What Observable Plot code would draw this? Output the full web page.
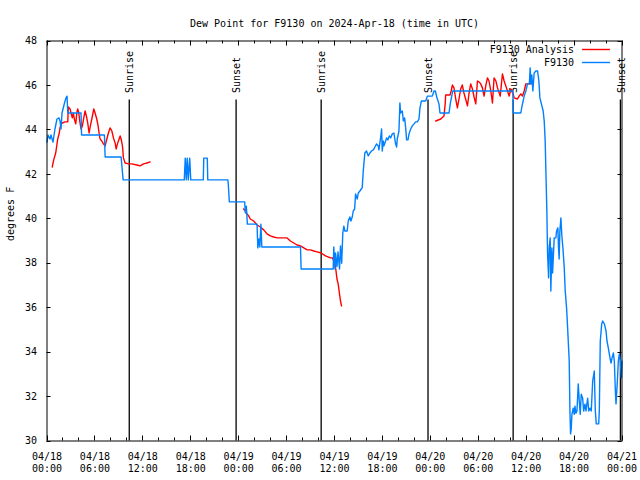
<!DOCTYPE html>
<html><head><meta charset="utf-8">
<script src="https://cdn.jsdelivr.net/npm/d3@7"></script>
<script src="https://cdn.jsdelivr.net/npm/@observablehq/plot@0.6"></script>
<style>body{margin:0;background:#fff} svg{display:block}</style>
</head><body><div id="chart"></div>
<script>
const chartTitle = "Dew Point for F9130 on 2024-Apr-18 (time in UTC)";
const yLabel = "degrees F";
const startUTC = Date.UTC(2024, 3, 18);
const xTickHours = [0, 6, 12, 18, 24, 30, 36, 42, 48, 54, 60, 66, 72];
const yTicks = [30, 32, 34, 36, 38, 40, 42, 44, 46, 48];

// F9130 observations: [hours since 2024-04-18 00:00 UTC, dew point F]
const blueSeries = [[0,43.45],[0.13,43.77],[0.38,43.59],[0.5,43.77],[0.75,43.45],[1.0,44.04],[1.25,44.49],[1.5,44.54],[1.63,44.4],[1.76,44.04],[1.88,44.76],[2.13,45.12],[2.26,45.3],[2.38,45.44],[2.51,45.52],[2.6,44.76],[4.26,44.76],[4.33,43.77],[7.19,43.77],[7.28,42.78],[9.28,42.78],[9.53,41.75],[17.19,41.75],[17.31,42.73],[17.44,41.75],[17.56,42.73],[17.69,41.75],[17.87,42.73],[18.0,41.75],[19.57,41.75],[19.63,42.73],[20.07,42.73],[20.13,41.75],[22.64,41.75],[22.7,41.57],[22.83,40.76],[24.75,40.76],[24.84,40.26],[24.96,40.57],[25.09,39.76],[26.3,39.76],[26.4,38.69],[26.53,39.09],[26.65,38.73],[26.78,39.76],[26.9,38.73],[31.74,38.73],[31.82,37.74],[35.84,37.74],[35.91,38.73],[36.06,37.74],[36.13,38.46],[36.31,37.85],[36.44,38.51],[36.63,37.74],[36.75,38.78],[36.9,38.0],[37.04,39.36],[37.17,39.67],[37.3,39.45],[37.59,39.45],[37.72,39.9],[37.92,40.08],[38.05,39.9],[38.22,40.08],[38.35,40.35],[38.52,40.44],[38.64,41.12],[38.85,40.89],[38.98,41.16],[39.18,41.25],[39.35,41.34],[39.47,41.39],[39.6,42.15],[39.8,42.96],[40.01,43.05],[40.23,42.83],[40.43,42.96],[40.64,43.05],[40.86,43.1],[41.06,43.23],[41.27,43.37],[41.48,43.28],[41.56,43.1],[41.68,43.41],[41.77,43.64],[41.9,44.04],[41.98,43.05],[42.11,43.5],[42.18,43.28],[42.4,43.5],[42.52,43.64],[42.69,43.55],[42.86,43.73],[43.03,43.64],[43.24,43.82],[43.44,43.86],[43.65,43.37],[43.78,43.23],[43.86,43.59],[44.07,43.95],[44.19,45.21],[44.28,44.76],[44.49,44.85],[44.62,44.4],[44.78,44.54],[44.91,44.09],[45.03,43.55],[45.2,43.55],[45.33,43.82],[45.54,44.04],[45.75,44.18],[45.96,44.27],[46.16,44.36],[46.37,44.36],[46.58,44.49],[46.71,45.0],[46.88,45.3],[47.42,45.3],[47.63,45.52],[48.25,45.52],[48.46,45.75],[48.63,45.75],[48.8,45.48],[49.08,45.17],[49.21,44.76],[50.34,44.76],[50.49,45.17],[50.68,45.52],[50.8,45.75],[58.33,45.75],[58.37,44.76],[59.33,44.76],[59.46,45.03],[59.75,45.52],[59.96,45.75],[60.17,46.07],[60.4,46.07],[60.5,46.79],[60.59,46.07],[60.71,46.47],[60.84,45.75],[61.0,46.56],[61.21,46.65],[61.43,46.65],[61.59,46.2],[61.72,45.44],[61.97,45.08],[62.13,44.85],[62.26,44.4],[62.38,43.5],[62.47,42.15],[62.59,40.35],[62.68,38.42],[62.81,37.34],[62.88,38.69],[63.01,39.14],[63.09,36.75],[63.22,38.69],[63.31,37.56],[63.51,39.14],[63.72,39.14],[63.81,39.45],[63.97,39.59],[64.05,38.69],[64.13,38.19],[64.22,39.45],[64.35,40.04],[64.47,39.23],[64.6,38.69],[64.77,37.79],[64.89,36.75],[65.06,35.99],[65.19,35.09],[65.39,33.6],[65.48,31.35],[65.56,30.32],[65.64,30.54],[65.73,31.2],[65.89,31.48],[66.02,31.2],[66.11,31.57],[66.23,31.25],[66.36,31.35],[66.52,32.57],[66.65,31.8],[66.77,31.2],[66.9,32.11],[67.07,31.93],[67.2,31.35],[67.36,31.66],[67.49,31.35],[67.7,31.93],[67.83,31.35],[67.99,31.48],[68.15,31.35],[68.33,32.7],[68.53,33.15],[68.66,31.35],[68.78,30.77],[69.08,30.77],[69.16,31.35],[69.28,34.5],[69.46,35.27],[69.58,35.4],[69.79,35.27],[70.0,34.95],[70.12,34.5],[70.29,34.18],[70.5,33.73],[70.63,33.51],[70.75,33.73],[70.92,33.96],[71.04,33.6],[71.17,32.25],[71.25,31.67],[71.42,32.7],[71.54,33.6],[71.67,33.92],[71.79,33.6],[71.92,32.84],[72.0,33.6]];

// F9130 Analysis, three separate runs
const redRun1 = [[0.66,42.33],[0.84,42.65],[1.09,42.96],[1.22,43.28],[1.34,43.59],[1.54,43.86],[1.63,44.09],[1.76,44.27],[1.92,44.31],[2.26,44.36],[2.6,44.36],[2.67,45.03],[2.89,44.94],[3.01,44.76],[3.17,44.54],[3.3,44.76],[3.42,44.49],[3.6,44.27],[3.73,44.76],[3.85,44.94],[3.98,44.76],[4.1,44.4],[4.26,44.04],[4.43,44.18],[4.6,44.54],[4.77,44.85],[4.93,44.63],[5.1,44.31],[5.27,43.86],[5.43,44.18],[5.61,44.49],[5.86,44.94],[6.02,44.76],[6.23,44.49],[6.4,44.18],[6.52,43.86],[6.65,43.59],[6.86,43.5],[7.06,43.37],[7.28,43.28],[7.49,43.59],[7.69,43.86],[7.9,44.09],[8.12,43.95],[8.32,43.64],[8.53,43.41],[8.66,43.14],[8.82,43.37],[9.03,43.59],[9.16,43.73],[9.28,43.59],[9.45,43.28],[9.57,42.74],[9.78,42.51],[10.2,42.47],[10.62,42.47],[11.25,42.42],[11.67,42.38],[12.08,42.47],[12.51,42.51],[12.92,42.56]];
const redRun2 = [[24.62,40.44],[24.84,40.35],[25.05,40.22],[25.25,40.13],[25.46,39.99],[25.88,39.9],[26.3,39.72],[26.72,39.63],[27.13,39.5],[27.56,39.32],[27.97,39.23],[28.39,39.18],[28.81,39.14],[29.23,39.14],[30.07,39.14],[30.48,39.0],[30.9,38.91],[31.32,38.82],[31.74,38.78],[32.15,38.69],[32.58,38.6],[32.99,38.6],[33.41,38.55],[33.83,38.51],[34.33,38.46],[34.87,38.33],[35.5,38.24],[35.75,38.24],[35.91,38.1],[36.06,37.97],[36.19,37.65],[36.31,37.29],[36.46,37.07],[36.63,36.61],[36.75,36.3],[36.88,36.08]];
const redRun3 = [[48.67,44.4],[49.3,44.49],[49.71,44.63],[49.86,45.17],[49.92,45.57],[50.46,45.57],[50.61,45.75],[50.76,46.02],[50.96,45.89],[51.18,45.39],[51.39,44.99],[51.59,45.39],[51.8,45.84],[52.0,46.02],[52.21,45.66],[52.42,45.39],[52.65,45.08],[52.85,45.66],[53.06,46.07],[53.27,45.84],[53.48,45.48],[53.69,45.17],[53.9,46.2],[54.1,46.16],[54.31,46.07],[54.52,45.89],[54.73,45.52],[54.94,45.98],[55.15,46.34],[55.35,46.2],[55.57,45.75],[55.78,45.21],[55.98,46.34],[56.21,46.2],[56.41,45.89],[56.75,45.52],[57.03,46.52],[57.24,46.2],[57.45,45.98],[57.66,45.75],[57.87,45.52],[58.08,45.84],[58.29,45.75],[58.49,45.44],[58.91,45.39],[59.12,45.52],[59.33,45.62],[59.54,45.52],[59.75,45.75],[59.96,46.07],[60.59,46.07],[60.71,46.11]];

const sunHours = [10.3, 23.68, 34.33, 47.71, 58.37, 71.8];
const sunLabels = ["Sunrise", "Sunset", "Sunrise", "Sunset", "Sunrise", "Sunset"];
const sunLineTop = 45.35;
const sunLabelBase = 45.66;

const legendLabels = ["F9130 Analysis", "F9130"];
const legendColors = ["#ff0000", "#0080ff"];

const toDate = h => new Date(startUTC + h * 3600e3);
const blueRows = blueSeries.map(([h, v]) => ({t: toDate(h), v}));
const redRows = [redRun1, redRun2, redRun3].flatMap((run, i) => run.map(([h, v]) => ({t: toDate(h), v, run: i})));
const sunRows = sunHours.map((h, i) => ({t: toDate(h), label: sunLabels[i]}));
const fmt = d3.utcFormat("%m/%d\n%H:%M");
const FONT = "DejaVu Sans Mono";

const plot = Plot.plot({
  width: 640, height: 480,
  marginLeft: 46.5, marginRight: 18.5, marginTop: 40.5, marginBottom: 39.5,
  style: {fontFamily: FONT, fontSize: "10px", background: "#fff", color: "#000"},
  x: {type: "utc", domain: [toDate(0), toDate(72)]},
  y: {domain: [30, 48]},
  marks: [
    Plot.axisX({ticks: xTickHours.map(toDate), tickFormat: fmt, tickSize: 0, tickPadding: 10, label: null, lineHeight: 1.24, fill: "#000"}),
    Plot.axisY({ticks: yTicks, tickFormat: d => String(d), tickSize: 0, tickPadding: 10, label: null, fill: "#000"}),
    Plot.ruleX(sunRows, {x: "t", y1: 30, y2: sunLineTop, stroke: "#000", strokeWidth: 1.3}),
    Plot.text(sunRows, {x: "t", y: sunLabelBase, text: "label", rotate: -90, textAnchor: "start", lineAnchor: "middle", dx: 1, fill: "#000", fontSize: 10}),
    Plot.line(redRows, {x: "t", y: "v", z: "run", stroke: legendColors[0], strokeWidth: 1.4}),
    Plot.line(blueRows, {x: "t", y: "v", stroke: legendColors[1], strokeWidth: 1.4}),
    Plot.frame({stroke: "#000", strokeWidth: 1}),
    Plot.text([chartTitle], {frameAnchor: "top", dy: -21, text: d => d, fill: "#000", fontSize: 10}),
    Plot.text([yLabel], {frameAnchor: "left", dx: -36, rotate: -90, text: d => d, fill: "#000", fontSize: 10})
  ]
});

// inward ticks on all four borders, placed through the plot's scales
const sx = plot.scale("x"), sy = plot.scale("y");
const svg = d3.select(plot);
const g = svg.append("g").attr("stroke", "#000").attr("stroke-width", 1);
const [x0, x1] = sx.range, [yb, yt] = sy.range;
for (let h = 0; h <= 72; h += 2) {
  const x = Math.round(sx.apply(toDate(h))) + 0.5;
  const len = h % 6 === 0 ? 5 : 3;
  g.append("line").attr("x1", x).attr("x2", x).attr("y1", yb).attr("y2", yb - len);
  g.append("line").attr("x1", x).attr("x2", x).attr("y1", yt).attr("y2", yt + len);
}
for (const v of yTicks) {
  const y = Math.round(sy.apply(v)) + 0.5;
  g.append("line").attr("x1", x0).attr("x2", x0 + 4).attr("y1", y).attr("y2", y);
  g.append("line").attr("x1", x1).attr("x2", x1 - 4).attr("y1", y).attr("y2", y);
}
// legend (top right, inside the frame)
const lg = svg.append("g").attr("font-family", FONT).attr("font-size", 10);
legendLabels.forEach((label, i) => {
  const y = 49.5 + i * 13;
  lg.append("text").attr("x", 574).attr("y", y).attr("dy", "0.32em").attr("text-anchor", "end").attr("fill", "#000").text(label);
  lg.append("line").attr("x1", 582).attr("x2", 610).attr("y1", y).attr("y2", y).attr("stroke", legendColors[i]).attr("stroke-width", 1.4);
});
document.getElementById("chart").appendChild(plot);
</script>
</body></html>
